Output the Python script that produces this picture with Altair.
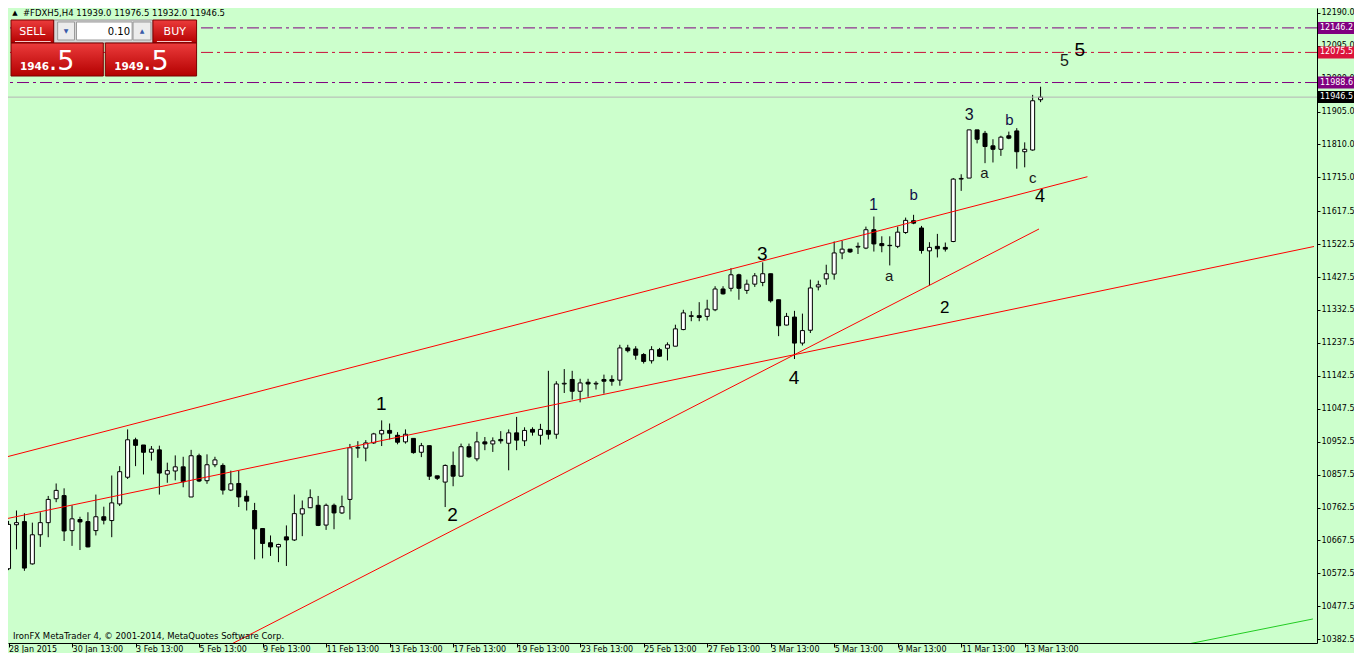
import altair as alt
import pandas as pd

# ---------------- data ----------------
bar_index = list(range(131))
open_p = [10586,10713,10722,10600,10684,10719,10788,10797,10696,10728,
          10722,10696,10736,10725,10773,10850,10958,10943,10922,10929,
          10859,10868,10880,10793,10912,10840,10886,10884,10813,10832,
          10795,10754,10702,10661,10649,10678,10669,10744,10762,10769,
          10712,10769,10747,10786,10934,10934,10949,10975,10985,10971,
          10952,10962,10922,10941,10854,10836,10884,10853,10938,10903,
          10952,10946,10959,10948,10978,10955,10988,10971,10985,10974,
          11119,11132,11098,11124,11119,11132,11132,11130,11223,11220,
          11204,11186,11218,11222,11228,11276,11314,11316,11314,11333,
          11393,11395,11434,11389,11407,11412,11437,11362,11289,11312,
          11237,11274,11399,11422,11436,11497,11508,11514,11511,11564,
          11524,11519,11516,11556,11590,11569,11503,11516,11513,11530,
          11710,11713,11852,11842,11806,11796,11835,11849,11789,11794,
          11939]
high_p = [10724,10754,10746,10719,10749,10796,10832,10818,10769,10736,
          10749,10800,10765,10855,10882,10988,10964,10943,10940,10941,
          10892,10913,10909,10929,10918,10916,10909,10890,10869,10869,
          10812,10776,10702,10682,10658,10711,10800,10783,10815,10796,
          10774,10774,10797,10946,10954,10957,10978,11014,11005,10980,
          10988,10962,10949,10941,10854,10887,10924,10947,10947,10981,
          10966,10965,10983,10988,11024,10994,10994,11004,11157,11127,
          11162,11157,11134,11134,11127,11146,11144,11232,11232,11228,
          11208,11228,11223,11239,11290,11333,11329,11355,11362,11401,
          11401,11453,11437,11420,11439,11470,11437,11362,11324,11330,
          11322,11420,11417,11463,11530,11532,11508,11527,11573,11602,
          11545,11545,11573,11599,11607,11575,11528,11552,11527,11713,
          11724,11852,11852,11849,11825,11835,11847,11857,11816,11953,
          11976.5]
low_p = [10582,10642,10580,10598,10649,10677,10778,10666,10652,10640,
         10648,10682,10714,10677,10767,10845,10882,10858,10898,10800,
         10834,10841,10821,10793,10836,10831,10879,10800,10810,10764,
         10754,10613,10616,10623,10605,10594,10666,10680,10761,10709,
         10698,10700,10744,10728,10906,10896,10946,10940,10959,10945,
         10947,10918,10908,10842,10842,10764,10824,10853,10906,10896,
         10928,10923,10947,10870,10928,10940,10970,10944,10959,10961,
         11093,11074,11066,11082,11103,11091,11114,11114,11210,11189,
         11178,11178,11197,11187,11228,11274,11300,11300,11302,11329,
         11377,11386,11362,11379,11399,11401,11354,11257,11288,11191,
         11230,11266,11389,11405,11420,11479,11497,11494,11508,11501,
         11499,11461,11511,11552,11580,11495,11403,11484,11501,11528,
         11676,11713,11813,11756,11758,11777,11825,11740,11744,11792,
         11932]
close_p = [10714,10719,10588,10684,10719,10786,10812,10695,10730,10721,
           10649,10736,10726,10776,10866,10958,10942,10922,10931,10862,
           10869,10880,10837,10912,10839,10886,10900,10813,10831,10793,
           10781,10701,10659,10649,10656,10669,10745,10759,10791,10711,
           10769,10747,10765,10935,10936,10949,10975,10985,10977,10951,
           10974,10921,10941,10853,10847,10884,10853,10938,10909,10952,
           10946,10955,10955,10978,10957,10985,10980,10988,10974,11119,
           11121,11098,11122,11119,11121,11127,11127,11223,11215,11202,
           11184,11218,11199,11232,11278,11324,11316,11311,11335,11393,
           11379,11434,11395,11407,11431,11437,11359,11287,11314,11237,
           11273,11396,11405,11437,11497,11508,11500,11516,11564,11523,
           11518,11518,11557,11591,11583,11504,11513,11509,11508,11710,
           11712,11852,11825,11804,11796,11831,11828,11789,11796,11936,
           11946.5]

date_labels = ["28 Jan 2015", "30 Jan 13:00", "3 Feb 13:00", "5 Feb 13:00",
               "9 Feb 13:00", "11 Feb 13:00", "13 Feb 13:00", "17 Feb 13:00",
               "19 Feb 13:00", "23 Feb 13:00", "25 Feb 13:00", "27 Feb 13:00",
               "3 Mar 13:00", "5 Mar 13:00", "9 Mar 13:00", "11 Mar 13:00",
               "13 Mar 13:00"]
date_positions = [0, 8, 16, 24, 32, 40, 48, 56, 64, 72, 80, 88, 96, 104, 112, 120, 128]
price_ticks = [10382.5, 10477.5, 10572.5, 10667.5, 10762.5, 10857.5, 10952.5,
               11047.5, 11142.5, 11237.5, 11332.5, 11427.5, 11522.5, 11617.5,
               11715.0, 11810.0, 11905.0, 12000.0, 12095.0, 12190.0]

trend_id = ["upper", "middle", "steep", "green"]
trend_start_bar = [-1.0, -1.0, 20.0, 140.0]
trend_start_price = [10904.2, 10726.8, 10273.7, 10329.6]
trend_end_bar = [135.9, 164.44, 129.8, 164.3]
trend_end_price = [11716.9, 11515.6, 11566.1, 10441.1]
trend_color = ["#FF0000", "#FF0000", "#FF0000", "#22CC22"]

level_price = [12146.2, 12075.5, 11988.6]
level_color = ["#800080", "#C8103C", "#800080"]
tag_price = [12146.2, 12075.5, 11988.6, 11946.5]
tag_fill = ["#800080", "#DC143C", "#800080", "#000000"]
bid_price = [11946.5]

wave_text = ["1", "2", "3", "4", "1", "b", "a", "2", "3", "a", "b", "c", "4", "5", "5"]
wave_bar = [46.94, 55.94, 94.94, 98.94, 108.94, 114.0, 110.94, 117.94, 121.0,
            122.94, 126.06, 129.0, 129.94, 133.0, 134.94]
wave_price = [11061.2, 10741.1, 11493.9, 11136.2, 11635.3, 11664.1, 11430.5,
              11338.2, 11894.9, 11727.6, 11880.5, 11713.2, 11658.4, 12052.1, 12083.3]
wave_size = [19, 19, 19, 19, 16, 15, 15, 17, 16, 15, 15, 15, 18, 16, 19]
wave_color = ["#000000", "#000000", "#000000", "#000000", "#10104A", "#10104A",
              "#1A1A1A", "#000000", "#101030", "#1A1A1A", "#10104A", "#1A1A1A",
              "#000000", "#1A1A1A", "#000000"]

# ---------------- geometry of the view ----------------
PLOT_W, PLOT_H = 1309, 635
X_LEFT = 0.5625
X_RIGHT = X_LEFT + PLOT_W / 8.0
Y_TOP, Y_BOTTOM = 12203.6, 10371.8
PTS_PER_PX = (Y_TOP - Y_BOTTOM) / PLOT_H

def bx(px):       # view pixel -> bar position
    return X_LEFT + px / 8.0

def py(pyx):      # view pixel -> price position
    return Y_TOP - pyx * PTS_PER_PX

xscale = alt.Scale(domain=[X_LEFT, X_RIGHT], nice=False, zero=False)
yscale = alt.Scale(domain=[Y_BOTTOM, Y_TOP], nice=False, zero=False)

# ---------------- tables ----------------
candles = pd.DataFrame({"i": bar_index, "open": open_p, "high": high_p,
                        "low": low_p, "close": close_p})
candles["dir"] = ["up" if c >= o else "down" for o, c in zip(open_p, close_p)]

trend_rows = []
for k in range(len(trend_id)):
    trend_rows.append({"id": trend_id[k], "bar": trend_start_bar[k],
                       "price": trend_start_price[k], "color": trend_color[k]})
    trend_rows.append({"id": trend_id[k], "bar": trend_end_bar[k],
                       "price": trend_end_price[k], "color": trend_color[k]})
trends = pd.DataFrame(trend_rows)

levels = pd.DataFrame({"price": level_price, "color": level_color})
tags = pd.DataFrame({"price": tag_price, "fill": tag_fill,
                     "label": [f"{p:.1f}" for p in tag_price]})
tags["lo"] = tags["price"] - 6 * PTS_PER_PX
tags["hi"] = tags["price"] + 6 * PTS_PER_PX
bid = pd.DataFrame({"price": bid_price})
waves = pd.DataFrame({"t": wave_text, "bar": wave_bar, "price": wave_price,
                      "fs": wave_size, "color": wave_color})

label_expr = "[" + ",".join(f"'\u00a0{s}'" for s in date_labels) + "][round(datum.value/8)]"
FONT = "DejaVu Sans"

xaxis = alt.Axis(values=date_positions, labelExpr=label_expr, labelAlign="left",
                 labelBaseline="top", labelPadding=-2, tickSize=4,
                 tickColor="black", domainColor="black", labelColor="black",
                 labelFont=FONT, labelFontSize=8, grid=False, title=None,
                 labelOverlap=False, labelFlush=False)
yaxis = alt.Axis(orient="right", values=price_ticks, format=".1f", tickSize=3,
                 labelPadding=1, tickColor="black", domainColor="black",
                 labelColor="black", labelFont=FONT, labelFontSize=8,
                 grid=False, title=None, labelOverlap=False, labelFlush=False)

def X(field):
    return alt.X(field, scale=xscale, axis=xaxis, title=None)

def Y(field):
    return alt.Y(field, scale=yscale, axis=yaxis, title=None)

wicks = alt.Chart(candles).mark_rule(color="black", strokeWidth=1).encode(
    x=X("i:Q"), y=Y("low:Q"), y2="high:Q",
)
bodies = alt.Chart(candles).mark_bar(size=4, stroke="black", strokeWidth=1).encode(
    x=X("i:Q"), y=Y("open:Q"), y2="close:Q",
    fill=alt.Fill("dir:N", scale=alt.Scale(domain=["up", "down"], range=["#FFFFFF", "#000000"]),
                  legend=None),
)

trend_layer = alt.Chart(trends).mark_line(strokeWidth=1, clip=True).encode(
    x=X("bar:Q"), y=Y("price:Q"), detail="id:N",
    color=alt.Color("color:N", scale=None),
)

level_layer = alt.Chart(levels).mark_rule(strokeWidth=1, strokeDash=[12, 4, 3, 4]).encode(
    y=Y("price:Q"), color=alt.Color("color:N", scale=None),
)
bid_layer = alt.Chart(bid).mark_rule(strokeWidth=1, color="#B4B4B4").encode(y=Y("price:Q"))

tag_boxes = alt.Chart(tags).mark_rect().encode(
    x=alt.value(PLOT_W + 1), x2=alt.value(PLOT_W + 37),
    y=Y("lo:Q"), y2="hi:Q",
    fill=alt.Fill("fill:N", scale=None),
)
tag_text = alt.Chart(tags).mark_text(align="left", baseline="middle", font=FONT,
                                     fontSize=8, color="white").encode(
    x=alt.value(PLOT_W + 3), y=Y("price:Q"), text="label:N",
)

wave_layer = alt.Chart(waves).mark_text(align="center", baseline="middle",
                                        font="Liberation Sans").encode(
    x=X("bar:Q"), y=Y("price:Q"), text="t:N",
    size=alt.Size("fs:Q", scale=None),
    color=alt.Color("color:N", scale=None),
)

# ---------------- decorations (one-click panel, header, copyright) ----------------
def rect_df(x0, x1, y0, y1, **extra):
    d = {"a": [bx(v) for v in x0], "b": [bx(v) for v in x1],
         "c": [py(v) for v in y0], "d": [py(v) for v in y1]}
    d.update(extra)
    return pd.DataFrame(d)

def deco_rect(df):
    return alt.Chart(df).encode(x=X("a:Q"), x2="b:Q", y=Y("c:Q"), y2="d:Q")

panel_rects = rect_df([41, 45, 64, 121], [141, 62, 120, 139],
                      [12, 14, 14, 14], [35, 32, 32, 32],
                      fill=["#D6D6D6", "#ECECEC", "#FFFFFF", "#ECECEC"])
red_rects = rect_df([-2, 141, -2, 93], [41, 185, 91, 185],
                    [12, 12, 35, 35], [35, 35, 68, 68])
under = rect_df([2, 145], [38, 180], [33, 33], [34, 34])

grey_layer = deco_rect(panel_rects).mark_rect(stroke="#9A9A9A", strokeWidth=1).encode(
    fill=alt.Fill("fill:N", scale=None))
red_layer = deco_rect(red_rects).mark_rect(
    stroke="#7A0000", strokeWidth=1,
    fill=alt.LinearGradient(gradient="linear",
                            stops=[alt.GradientStop(color="#EC3C3C", offset=0),
                                   alt.GradientStop(color="#B40000", offset=1)],
                            x1=0, x2=0, y1=0, y2=1))
under_layer = deco_rect(under).mark_rect(fill="#F4C8C8")

def deco_text(rows, **style):
    df = pd.DataFrame({"x": [bx(r[0]) for r in rows], "y": [py(r[1]) for r in rows],
                       "t": [r[2] for r in rows]})
    return alt.Chart(df).mark_text(**style).encode(x=X("x:Q"), y=Y("y:Q"), text="t:N")

btn_text = deco_text([(19.5, 24, "SELL"), (163, 24, "BUY")], align="center",
                     baseline="middle", font=FONT, fontSize=11, color="white")
lot_text = deco_text([(118, 23.5, "0.10")], align="right", baseline="middle",
                     font=FONT, fontSize=10, color="black")
arrow_text = deco_text([(53.5, 23, "▼"), (130, 23, "▲")], align="center",
                       baseline="middle", font=FONT, fontSize=6, color="#3A5AA8")
price_small = deco_text([(7, 62, "1946"), (102, 62, "1949")], align="left",
                        baseline="alphabetic", font=FONT, fontSize=10.5,
                        fontWeight="bold", color="white")
price_big = deco_text([(36, 62, ".5"), (131, 62, ".5")], align="left",
                      baseline="alphabetic", font=FONT, fontSize=27, color="white")
header_arrow = deco_text([(2, 4.5, "▲")], align="center", baseline="middle",
                         font=FONT, fontSize=7, color="black")
header_text = deco_text([(10, 8, "#FDXH5,H4  11939.0 11976.5 11932.0 11946.5")],
                        align="left", baseline="alphabetic", font=FONT,
                        fontSize=8.5, color="black")
copyright_text = deco_text([(0, 631, "IronFX MetaTrader 4, © 2001-2014, MetaQuotes Software Corp.")],
                           align="left", baseline="alphabetic", font=FONT,
                           fontSize=8.5, color="black")

chart = alt.layer(
    wicks, bodies, trend_layer, level_layer, bid_layer, wave_layer,
    grey_layer, red_layer, under_layer, btn_text, lot_text, arrow_text,
    price_small, price_big, header_arrow, header_text, copyright_text,
    tag_boxes, tag_text,
).properties(
    width=PLOT_W, height=PLOT_H,
    padding={"left": 0, "top": 0, "right": 37, "bottom": 10},
    autosize=alt.AutoSizeParams(type="none"),
    background="#CCFFCC",
).configure_view(strokeOpacity=0).configure_axis(labelOverlap=False)

chart.save("out.html", embed_options={"renderer": "svg", "actions": False})
